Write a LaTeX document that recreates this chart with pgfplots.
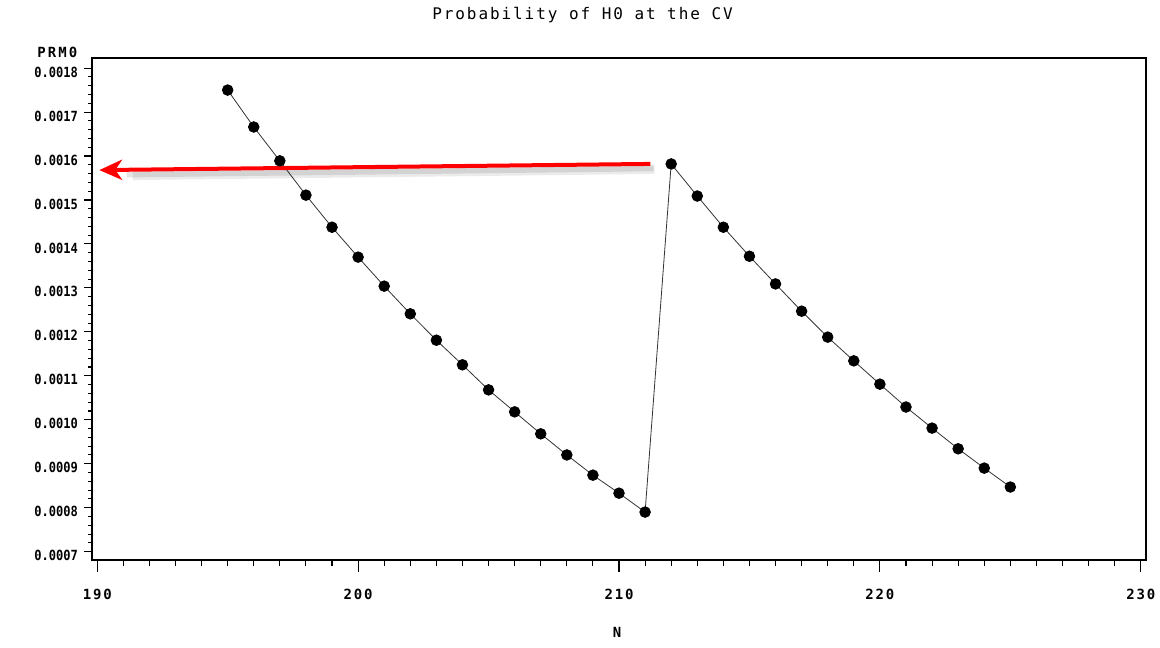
\documentclass[border=0pt]{standalone}
\usepackage{pgfplots}
\pgfplotsset{compat=1.18}
\usepackage{fontspec}
\setmainfont{DejaVu Sans Mono}
\usetikzlibrary{arrows.meta}
\begin{document}
\begin{tikzpicture}
\path[use as bounding box] (0,0) rectangle (870pt,486pt);
\node[font=\fontsize{12}{14}\selectfont\addfontfeature{LetterSpace=12}] at (436.9pt,474.5pt) {Probability of H0 at the CV};
\node[font=\fontsize{10.5}{12}\selectfont\bfseries\addfontfeature{LetterSpace=15}] at (43pt,447pt) {PRM0};
\node[font=\fontsize{10.5}{12}\selectfont\bfseries] at (462.75pt,11.5pt) {N};
\begin{axis}[
  at={(69pt,66pt)}, anchor=south west,
  scale only axis, width=790.5pt, height=376.5pt,
  xmin=189.8, xmax=230.2, ymin=0.000681, ymax=0.001823,
  xtick={190,200,210,220,230}, minor x tick num=9,
  ytick={0.0007,0.0008,0.0009,0.0010,0.0011,0.0012,0.0013,0.0014,0.0015,0.0016,0.0017,0.0018},
  minor y tick num=4,
  tick align=outside, tick pos=left,
  major tick length=6pt, minor tick length=3pt,
  xtick style={/pgfplots/major tick length=9pt, /pgfplots/minor tick length=4.5pt},
  every tick/.style={black, line width=0.8pt},
  axis line style={line width=0.8pt},
  /pgf/number format/assume math mode=true,
  scaled y ticks=false,
  yticklabel style={/pgf/number format/fixed, /pgf/number format/precision=4, /pgf/number format/fixed zerofill,
    font=\fontsize{10.5}{12}\selectfont\bfseries\addfontfeature{FakeStretch=0.86}, yshift=-3pt, xshift=-1pt},
  xticklabel style={font=\fontsize{10.5}{12}\selectfont\bfseries\addfontfeature{LetterSpace=13}, yshift=-12pt},
  clip=false,
]
\addplot[black!80, line width=0.6pt, mark=*, mark size=4pt, mark options={fill=black, draw=black}] coordinates {
(195,0.001750) (196,0.001666) (197,0.001589) (198,0.001511) (199,0.001438)
(200,0.001370) (201,0.001304) (202,0.001241) (203,0.001181) (204,0.001125)
(205,0.001068) (206,0.001018) (207,0.000968) (208,0.000920) (209,0.000874)
(210,0.000833) (211,0.000790) (212,0.001582) (213,0.001509) (214,0.001438)
(215,0.001372) (216,0.001309) (217,0.001247) (218,0.001188) (219,0.001134)
(220,0.001081) (221,0.001029) (222,0.000981) (223,0.000934) (224,0.000890)
(225,0.000847)
};
\draw[black, opacity=0.08, line width=7pt, shift={(3pt,-4pt)}] (axis cs:211.2,0.001582) -- (axis cs:191.2,0.001568);
\draw[black, opacity=0.10, line width=4pt, shift={(2.5pt,-3.5pt)}] (axis cs:211.2,0.001582) -- (axis cs:191.0,0.001568);
\draw[red, line width=3pt, -{Stealth[length=17pt,width=15pt,inset=5pt]}] (axis cs:211.2,0.001582) -- (axis cs:190.08,0.001568);
\end{axis}
\end{tikzpicture}
\end{document}
